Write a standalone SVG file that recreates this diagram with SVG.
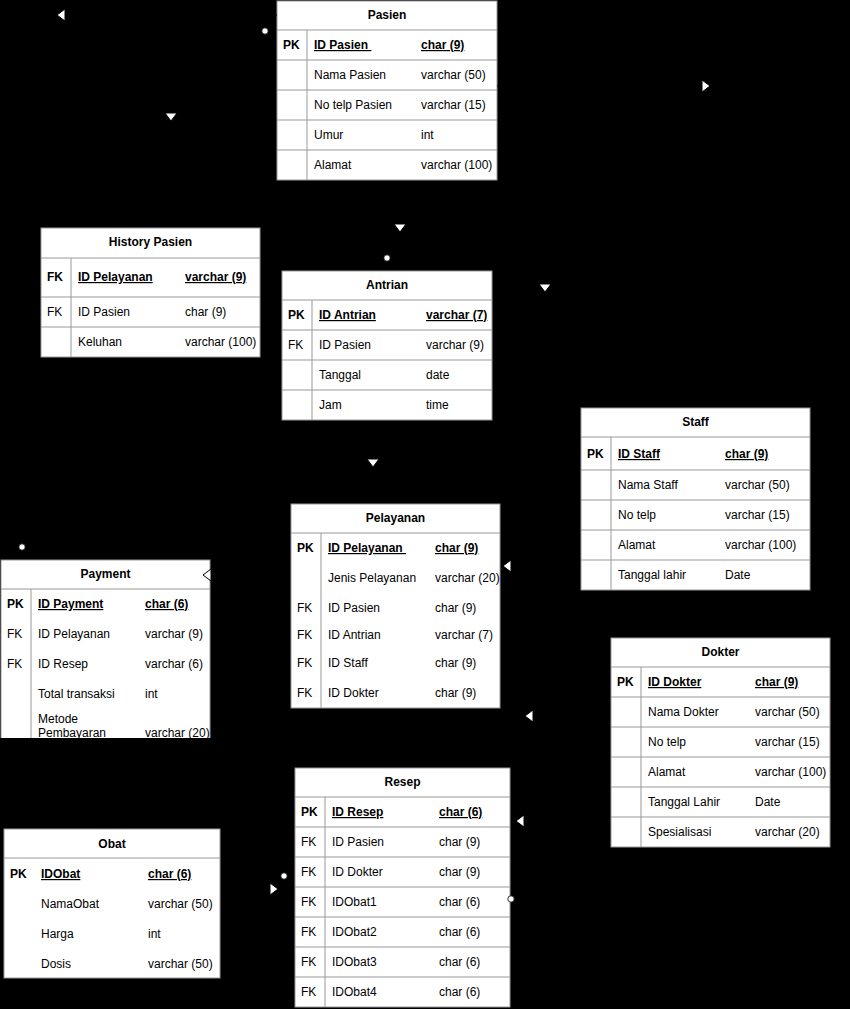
<svg xmlns="http://www.w3.org/2000/svg" width="850" height="1009" viewBox="0 0 850 1009">
<style>
text{font-family:"Liberation Sans",Arial,sans-serif;font-size:12px;fill:#000}
.ttl{font-weight:bold;text-anchor:middle}
.k{font-weight:bold}
.u{font-weight:bold;text-decoration:underline}
.box{fill:#fff;stroke:#999;stroke-width:1}
.ln{stroke:#999;stroke-width:1;fill:none}
.con{stroke:#000;stroke-width:1;fill:none}
</style>
<defs>
<marker id="tri" viewBox="0 0 10 14" refX="9" refY="7" markerWidth="10" markerHeight="14" orient="auto" markerUnits="userSpaceOnUse"><path d="M1 1 L9 7 L1 13 Z" fill="#fff" stroke="#000" stroke-width="1"/></marker>
<marker id="dot" viewBox="0 0 8 8" refX="4" refY="4" markerWidth="8" markerHeight="8" markerUnits="userSpaceOnUse"><circle cx="4" cy="4" r="3.2" fill="#fff" stroke="#000" stroke-width="0.8"/></marker>
<clipPath id="payClip"><rect x="0" y="559" width="212" height="179"/></clipPath>
</defs>
<rect x="0" y="0" width="850" height="1009" fill="#000"/>

<g id="pasien">
<rect class="box" x="277" y="1" width="220" height="179"/>
<path class="ln" d="M277 30H497M277 60H497M277 90H497M277 120H497M277 150H497M307 30V180"/>
<text class="ttl" x="387" y="19">Pasien</text>
<text class="k" x="283" y="49">PK</text><text class="u" x="314" y="49" xml:space="preserve">ID Pasien </text><text class="u" x="421" y="49">char (9)</text>
<text x="314" y="79">Nama Pasien</text><text x="421" y="79">varchar (50)</text>
<text x="314" y="109">No telp Pasien</text><text x="421" y="109">varchar (15)</text>
<text x="314" y="139">Umur</text><text x="421" y="139">int</text>
<text x="314" y="169">Alamat</text><text x="421" y="169">varchar (100)</text>
</g>

<g id="history-pasien">
<rect class="box" x="41" y="228" width="219" height="129"/>
<path class="ln" d="M41 258H260M41 297H260M41 327H260M71 258V357"/>
<text class="ttl" x="150.5" y="246">History Pasien</text>
<text class="k" x="47" y="281">FK</text><text class="u" x="78" y="281">ID Pelayanan</text><text class="u" x="185" y="281">varchar (9)</text>
<text x="47" y="316">FK</text><text x="78" y="316">ID Pasien</text><text x="185" y="316">char (9)</text>
<text x="78" y="346">Keluhan</text><text x="185" y="346">varchar (100)</text>
</g>

<g id="antrian">
<rect class="box" x="282" y="271" width="210" height="149"/>
<path class="ln" d="M282 300H492M282 330H492M282 360H492M282 390H492M312 300V420"/>
<text class="ttl" x="387" y="289">Antrian</text>
<text class="k" x="288" y="319">PK</text><text class="u" x="319" y="319">ID Antrian</text><text class="u" x="426" y="319">varchar (7)</text>
<text x="288" y="349">FK</text><text x="319" y="349">ID Pasien</text><text x="426" y="349">varchar (9)</text>
<text x="319" y="379">Tanggal</text><text x="426" y="379">date</text>
<text x="319" y="409">Jam</text><text x="426" y="409">time</text>
</g>

<g id="staff">
<rect class="box" x="581" y="408" width="229" height="182"/>
<path class="ln" d="M581 437H810M581 470H810M581 500H810M581 530H810M581 560H810M611 437V590"/>
<text class="ttl" x="695.5" y="426">Staff</text>
<text class="k" x="587" y="458">PK</text><text class="u" x="618" y="458">ID Staff</text><text class="u" x="725" y="458">char (9)</text>
<text x="618" y="489">Nama Staff</text><text x="725" y="489">varchar (50)</text>
<text x="618" y="519">No telp</text><text x="725" y="519">varchar (15)</text>
<text x="618" y="549">Alamat</text><text x="725" y="549">varchar (100)</text>
<text x="618" y="579">Tanggal lahir</text><text x="725" y="579">Date</text>
</g>

<g id="pelayanan">
<rect class="box" x="291" y="504" width="209" height="204"/>
<path class="ln" d="M291 533H500M321 533V708"/>
<text class="ttl" x="395.5" y="522">Pelayanan</text>
<text class="k" x="297" y="552">PK</text><text class="u" x="328" y="552" xml:space="preserve">ID Pelayanan </text><text class="u" x="435" y="552">char (9)</text>
<text x="328" y="582">Jenis Pelayanan</text><text x="435" y="582">varchar (20)</text>
<text x="297" y="612">FK</text><text x="328" y="612">ID Pasien</text><text x="435" y="612">char (9)</text>
<text x="297" y="639">FK</text><text x="328" y="639">ID Antrian</text><text x="435" y="639">varchar (7)</text>
<text x="297" y="667">FK</text><text x="328" y="667">ID Staff</text><text x="435" y="667">char (9)</text>
<text x="297" y="697">FK</text><text x="328" y="697">ID Dokter</text><text x="435" y="697">char (9)</text>
</g>

<g id="payment" clip-path="url(#payClip)">
<rect class="box" x="1" y="560" width="209" height="180"/>
<path class="ln" d="M1 589H210M31 589V740"/>
<text class="ttl" x="105.5" y="578">Payment</text>
<text class="k" x="7" y="608">PK</text><text class="u" x="38" y="608">ID Payment</text><text class="u" x="145" y="608">char (6)</text>
<text x="7" y="638">FK</text><text x="38" y="638">ID Pelayanan</text><text x="145" y="638">varchar (9)</text>
<text x="7" y="668">FK</text><text x="38" y="668">ID Resep</text><text x="145" y="668">varchar (6)</text>
<text x="38" y="698">Total transaksi</text><text x="145" y="698">int</text>
<text x="38" y="723">Metode</text><text x="38" y="737">Pembayaran</text><text x="145" y="737">varchar (20)</text>
</g>

<g id="dokter">
<rect class="box" x="611" y="638" width="219" height="209"/>
<path class="ln" d="M611 667H830M611 697H830M611 727H830M611 757H830M611 787H830M611 817H830M641 667V847"/>
<text class="ttl" x="720.5" y="656">Dokter</text>
<text class="k" x="617" y="686">PK</text><text class="u" x="648" y="686">ID Dokter</text><text class="u" x="755" y="686">char (9)</text>
<text x="648" y="716">Nama Dokter</text><text x="755" y="716">varchar (50)</text>
<text x="648" y="746">No telp</text><text x="755" y="746">varchar (15)</text>
<text x="648" y="776">Alamat</text><text x="755" y="776">varchar (100)</text>
<text x="648" y="806">Tanggal Lahir</text><text x="755" y="806">Date</text>
<text x="648" y="836">Spesialisasi</text><text x="755" y="836">varchar (20)</text>
</g>

<g id="resep">
<rect class="box" x="295" y="768" width="215" height="239"/>
<path class="ln" d="M295 797H510M295 827H510M295 857H510M295 887H510M295 917H510M295 947H510M295 977H510M325 797V1007"/>
<text class="ttl" x="402.5" y="786">Resep</text>
<text class="k" x="301" y="816">PK</text><text class="u" x="332" y="816">ID Resep</text><text class="u" x="439" y="816">char (6)</text>
<text x="301" y="846">FK</text><text x="332" y="846">ID Pasien</text><text x="439" y="846">char (9)</text>
<text x="301" y="876">FK</text><text x="332" y="876">ID Dokter</text><text x="439" y="876">char (9)</text>
<text x="301" y="906">FK</text><text x="332" y="906">IDObat1</text><text x="439" y="906">char (6)</text>
<text x="301" y="936">FK</text><text x="332" y="936">IDObat2</text><text x="439" y="936">char (6)</text>
<text x="301" y="966">FK</text><text x="332" y="966">IDObat3</text><text x="439" y="966">char (6)</text>
<text x="301" y="996">FK</text><text x="332" y="996">IDObat4</text><text x="439" y="996">char (6)</text>
</g>

<g id="obat">
<rect class="box" x="4" y="829" width="216" height="149"/>
<path class="ln" d="M4 858H220"/>
<text class="ttl" x="112" y="848">Obat</text>
<text class="k" x="10" y="878">PK</text><text class="u" x="41" y="878">IDObat</text><text class="u" x="148" y="878">char (6)</text>
<text x="41" y="908">NamaObat</text><text x="148" y="908">varchar (50)</text>
<text x="41" y="938">Harga</text><text x="148" y="938">int</text>
<text x="41" y="968">Dosis</text><text x="148" y="968">varchar (50)</text>
</g>

<g id="connectors">
<path class="con" d="M277 15 L57 15" marker-end="url(#tri)"/>
<path class="con" d="M265 31 L171 31 L171 121" marker-start="url(#dot)" marker-end="url(#tri)"/>
<path class="con" d="M497 86 L710 86" marker-end="url(#tri)"/>
<path class="con" d="M400 181 L400 232" marker-end="url(#tri)"/>
<path class="con" d="M387 258 L387 270" marker-start="url(#dot)"/>
<path class="con" d="M498 104 L545 104 L545 292" marker-end="url(#tri)"/>
<path class="con" d="M373 421 L373 467" marker-end="url(#tri)"/>
<path class="con" d="M22 547 L22 559" marker-start="url(#dot)"/>
<path class="con" d="M290 575 L203 575" marker-end="url(#tri)"/>
<path class="con" d="M580 566 L503 566" marker-end="url(#tri)"/>
<path class="con" d="M610 716 L525 716" marker-end="url(#tri)"/>
<path class="con" d="M610 821 L516 821" marker-end="url(#tri)"/>
<path class="con" d="M221 889 L278 889" marker-end="url(#tri)"/>
<path class="con" d="M284 876 L294 876" marker-start="url(#dot)"/>
<path class="con" d="M511 899 L540 899" marker-start="url(#dot)"/>
</g>
</svg>
